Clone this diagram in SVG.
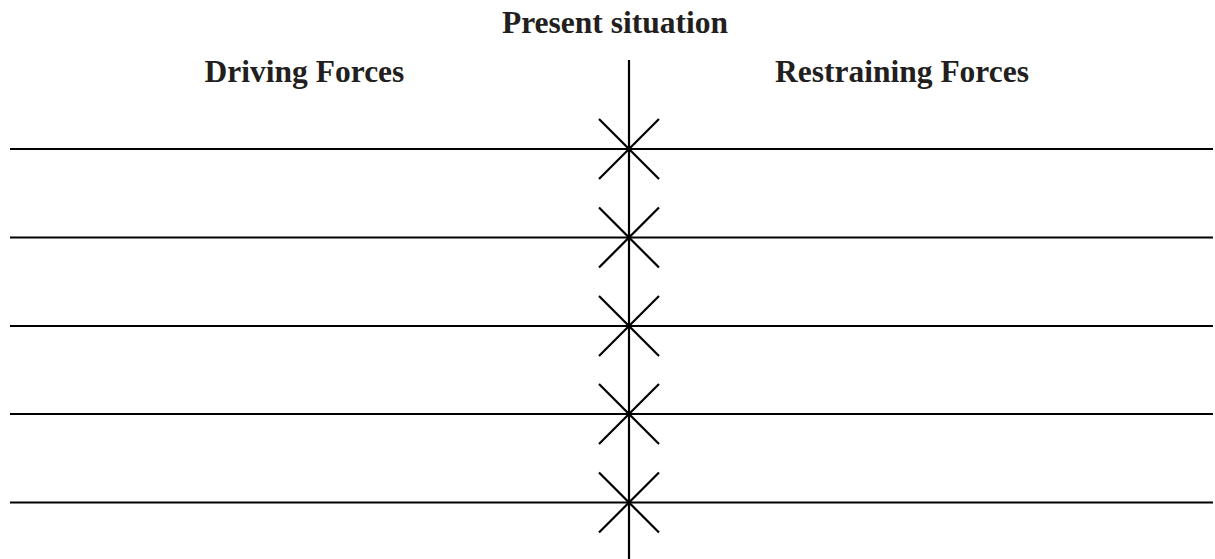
<svg xmlns="http://www.w3.org/2000/svg" width="1215" height="559" viewBox="0 0 1215 559">
<style>
text{font-family:"Liberation Serif","Times New Roman",serif;font-weight:bold;font-size:31.5px;fill:#231f20;text-anchor:middle}
.ln{stroke:#000;stroke-width:2.2;fill:none}
</style>
<rect width="1215" height="559" fill="#fff"/>
<g id="title"><text x="615" y="33">Present situation</text></g>
<g id="driving"><text x="304.5" y="82">Driving Forces</text></g>
<g id="restraining"><text x="902" y="82">Restraining Forces</text></g>
<g id="connectors" class="ln">
<line x1="629" y1="60" x2="629" y2="559"/>
<line x1="10" y1="149" x2="1213" y2="149"/>
<line x1="10" y1="237.5" x2="1213" y2="237.5"/>
<line x1="10" y1="326" x2="1213" y2="326"/>
<line x1="10" y1="414" x2="1213" y2="414"/>
<line x1="10" y1="502.5" x2="1213" y2="502.5"/>
<path d="M599 119L659 179M659 119L599 179"/>
<path d="M599 207.5L659 267.5M659 207.5L599 267.5"/>
<path d="M599 296L659 356M659 296L599 356"/>
<path d="M599 384L659 444M659 384L599 444"/>
<path d="M599 472.5L659 532.5M659 472.5L599 532.5"/>
</g>
</svg>
